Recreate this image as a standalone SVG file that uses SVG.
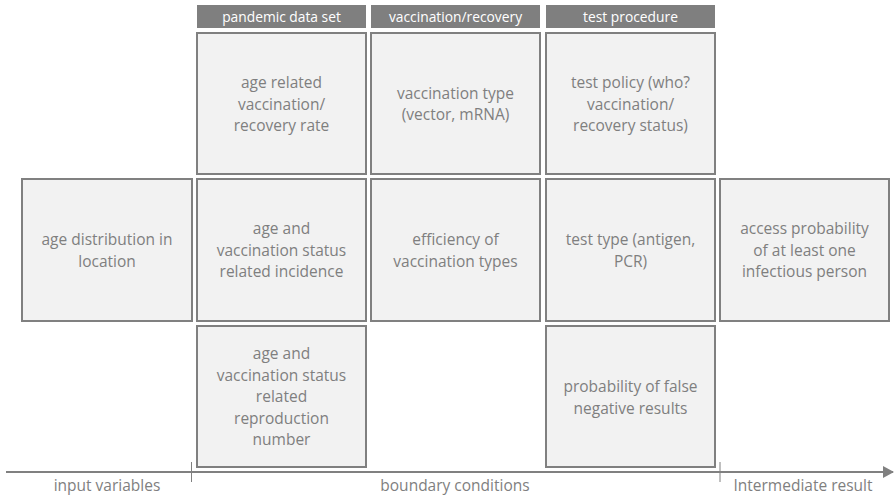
<svg xmlns="http://www.w3.org/2000/svg" width="894" height="499" viewBox="0 0 894 499">
<style>
.hdr{fill:#7f7f7f}
.ht{fill:#ffffff;font-family:"Open Sans","Liberation Sans",sans-serif;font-size:13.8px;text-anchor:middle}
.box{fill:#f2f2f2;stroke:#808080;stroke-width:2}
.bt{fill:#7f7f7f;font-family:"Open Sans","Liberation Sans",sans-serif;font-size:15.5px;text-anchor:middle}
.ax{stroke:#808080;stroke-width:2;fill:none}
.tk{stroke:#808080;stroke-width:1;fill:none}
</style>
<defs>
<marker id="ah" markerWidth="11" markerHeight="12" refX="10" refY="6" orient="auto" markerUnits="userSpaceOnUse">
<path d="M0,0 L11,6 L0,12 Z" fill="#808080"/>
</marker>
</defs>
<g id="headers">
<rect class="hdr" x="197" y="5" width="169" height="23"/>
<text class="ht" x="281.5" y="21.5">pandemic data set</text>
<rect class="hdr" x="371" y="5" width="169" height="23"/>
<text class="ht" x="455.5" y="21.5">vaccination/recovery</text>
<rect class="hdr" x="546" y="5" width="169" height="23"/>
<text class="ht" x="630.5" y="21.5">test procedure</text>
</g>
<g id="n_age_rate">
<rect class="box" x="197" y="33" width="169" height="141"/>
<text class="bt" x="281.5" y="88">age related</text>
<text class="bt" x="281.5" y="109.5">vaccination/</text>
<text class="bt" x="281.5" y="131">recovery rate</text>
</g>
<g id="n_vacc_type">
<rect class="box" x="371" y="33" width="169" height="141"/>
<text class="bt" x="455.5" y="98.5">vaccination type</text>
<text class="bt" x="455.5" y="120">(vector, mRNA)</text>
</g>
<g id="n_test_policy">
<rect class="box" x="546" y="33" width="169" height="141"/>
<text class="bt" x="630.5" y="88">test policy (who?</text>
<text class="bt" x="630.5" y="109.5">vaccination/</text>
<text class="bt" x="630.5" y="131">recovery status)</text>
</g>
<g id="n_age_dist">
<rect class="box" x="22" y="179" width="170" height="142"/>
<text class="bt" x="107" y="245">age distribution in</text>
<text class="bt" x="107" y="266.5">location</text>
</g>
<g id="n_incidence">
<rect class="box" x="197" y="179" width="169" height="142"/>
<text class="bt" x="281.5" y="234">age and</text>
<text class="bt" x="281.5" y="255.5">vaccination status</text>
<text class="bt" x="281.5" y="277">related incidence</text>
</g>
<g id="n_efficiency">
<rect class="box" x="371" y="179" width="169" height="142"/>
<text class="bt" x="455.5" y="245">efficiency of</text>
<text class="bt" x="455.5" y="266.5">vaccination types</text>
</g>
<g id="n_test_type">
<rect class="box" x="546" y="179" width="169" height="142"/>
<text class="bt" x="630.5" y="245">test type (antigen,</text>
<text class="bt" x="630.5" y="266.5">PCR)</text>
</g>
<g id="n_access">
<rect class="box" x="720" y="179" width="169" height="142"/>
<text class="bt" x="804.5" y="234">access probability</text>
<text class="bt" x="804.5" y="255.5">of at least one</text>
<text class="bt" x="804.5" y="277">infectious person</text>
</g>
<g id="n_reproduction">
<rect class="box" x="197" y="326" width="169" height="141"/>
<text class="bt" x="281.5" y="359">age and</text>
<text class="bt" x="281.5" y="380.5">vaccination status</text>
<text class="bt" x="281.5" y="402">related</text>
<text class="bt" x="281.5" y="423.5">reproduction</text>
<text class="bt" x="281.5" y="445">number</text>
</g>
<g id="n_false_neg">
<rect class="box" x="546" y="326" width="169" height="141"/>
<text class="bt" x="630.5" y="392">probability of false</text>
<text class="bt" x="630.5" y="413.5">negative results</text>
</g>
<g id="connectors">
<line class="ax" x1="6" y1="472" x2="893" y2="472" marker-end="url(#ah)"/>
<line class="tk" x1="191.5" y1="462" x2="191.5" y2="482"/>
<line class="tk" x1="720" y1="462" x2="720" y2="482"/>
</g>
<g id="axis_labels">
<text class="bt" x="107" y="491">input variables</text>
<text class="bt" x="455" y="491">boundary conditions</text>
<text class="bt" x="803" y="491">Intermediate result</text>
</g>
</svg>
